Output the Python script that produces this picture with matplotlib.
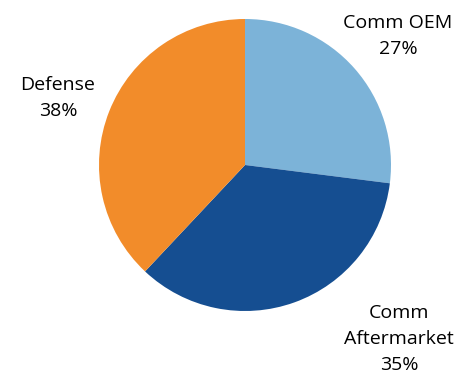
import matplotlib
matplotlib.use("Agg")
import matplotlib.pyplot as plt

categories = ["Comm OEM", "Comm\nAftermarket", "Defense"]
values = [27, 35, 38]
colors = ["#7CB3D8", "#154E91", "#F28C2A"]

W, H = 459, 379
fig = plt.figure(figsize=(W / 100, H / 100), dpi=100)
cx, cy, r = 245, 165, 146
ax = fig.add_axes([(cx - r) / W, (H - cy - r) / H, 2 * r / W, 2 * r / H])
ax.pie(values, colors=colors, startangle=90, counterclock=False,
       wedgeprops=dict(linewidth=0))
ax.set_xlim(-1, 1)
ax.set_ylim(-1, 1)
ax.set_aspect("equal")
ax.axis("off")

# label positions (figure pixels, centre of text block)
label_pos = [(398, 36), (399, 339), (58, 98)]
for name, v, (px, py) in zip(categories, values, label_pos):
    fig.text(px / W, 1 - py / H, f"{name}\n{v}%", ha="center", va="center",
             fontsize=14, family="Open Sans", linespacing=1.55, color="#000000")

fig.savefig("out.png", dpi=100)
